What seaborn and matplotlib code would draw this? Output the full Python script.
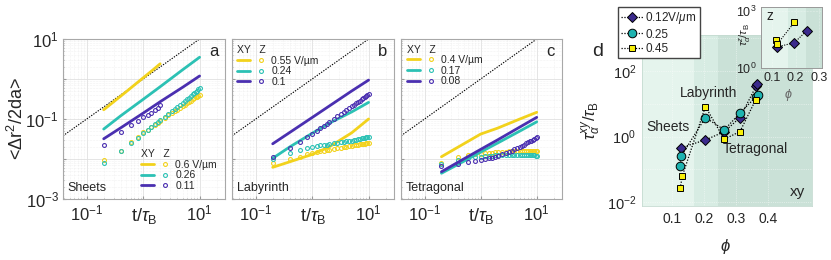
"""
MSD panels (Sheets / Labyrinth / Tetragonal) and relaxation time vs packing fraction.
"""
import numpy as np
import matplotlib
matplotlib.use("Agg")
import matplotlib.pyplot as plt
import seaborn as sns
from matplotlib.lines import Line2D
from matplotlib.legend_handler import HandlerTuple
from matplotlib.ticker import NullFormatter, LogLocator

# ---------------- data ----------------
T_Z = [0.2, 0.4, 0.6, 0.8, 1.0, 1.2, 1.4, 1.6, 1.8, 2.0, 2.4, 2.8, 3.2, 3.6,
       4.0, 4.5, 5.0, 5.5, 6.0, 6.5, 7.0, 7.5, 8.0, 8.5, 9.0, 9.5, 10.0]
T_XY = [0.2, 0.4, 1.0, 2.0, 5.0, 10.0]
T_XY_SHORT = [0.2, 0.5, 1.0, 1.5, 2.0]
GUIDE_T = [0.01, 100.0]
GUIDE_Y = [0.01, 100.0]

# panel a: Sheets
A_FIELDS = ['0.6 V/µm', '0.26', '0.11']
A_XY_YELLOW = [0.17, 0.48, 1.07, 1.7, 2.4]          # on T_XY_SHORT
A_XY_TEAL = [0.056, 0.12, 0.31, 0.64, 1.7, 3.5]
A_XY_PURPLE = [0.032, 0.06, 0.14, 0.27, 0.62, 1.19]
A_Z_YELLOW = [.0094, .016, .026, .036, .046, .053, .062, .072, .081, .09, .108, .125, .142, .158,
              .172, .19, .21, .23, .25, .27, .29, .31, .33, .35, .365, .38, .40]
A_Z_TEAL = [.0078, .016, .025, .034, .044, .053, .063, .073, .083, .093, .113, .133, .155, .175,
            .195, .22, .25, .28, .31, .34, .37, .41, .44, .48, .51, .55, .59]
A_Z_PURPLE = [.023, .047, .071, .091, .11, .126, .145, .165, .19, .23]   # t = 0.2 .. 2.0

# panel b: Labyrinth
B_FIELDS = ['0.55 V/µm', '0.24', '0.1']
B_XY_YELLOW = [.0062, .0085, .013, .02, .045, .10]
B_XY_TEAL = [.0104, .02, .044, .078, .15, .26]
B_XY_PURPLE = [.024, .046, .109, .21, .5, .94]
B_Z_YELLOW = [.0078, .0098, .0115, .013, .0142, .015, .0157, .0163, .0168, .0172, .018, .0186, .0192,
              .0197, .0202, .0208, .0213, .0218, .0222, .0227, .0231, .0235, .0239, .0243, .0246, .025, .0253]
B_Z_TEAL = [.0100, .0140, .0165, .0185, .020, .021, .022, .0225, .023, .0235, .0245, .0255, .026,
            .027, .0275, .028, .029, .0295, .030, .031, .032, .033, .0335, .034, .035, .0355, .036]
B_Z_PURPLE = [.011, .019, .027, .035, .043, .051, .059, .067, .076, .085, .10, .118, .135, .152,
              .17, .19, .21, .23, .25, .27, .29, .31, .33, .35, .37, .40, .42]

# panel c: Tetragonal
C_FIELDS = ['0.4 V/µm', '0.17', '0.08']
C_XY_YELLOW = [.0114, .02, .042, .059, .10, .147]
C_XY_TEAL = [.0044, .0074, .0149, .025, .05, .085]
C_XY_PURPLE = [.0048, .0084, .0174, .03, .063, .11]
C_Z_YELLOW = [.008, .011, .0125, .0132, .0137, .014, .0143, .0145, .0147, .0149, .0151, .0153, .0154,
              .0155, .0156, .0157, .0158, .0158, .0159, .0159, .016, .016, .016, .016, .016, .016, .016]
C_Z_TEAL = [.0075, .0095, .0105, .011, .0114, .0117, .012, .0122, .0124, .0125, .0127, .0128, .0128,
            .0128, .0128, .0127, .0127, .0126, .0126, .0125, .0125, .0124, .0124, .0123, .0123, .0122, .0122]
C_Z_PURPLE = [.0065, .0075, .0082, .0088, .0094, .0099, .0104, .0109, .0114, .0119, .013, .0141, .0152,
              .0163, .0174, .0188, .0202, .0216, .023, .0245, .026, .0275, .029, .0305, .032, .034, .036]

# panel d: tau_alpha vs phi
D_LABELS = ['0.12V/$\\mu$m', '0.25', '0.45']
D_PHI_PURPLE = [0.130, 0.205, 0.264, 0.313, 0.363, 0.367]
D_TAU_PURPLE = [0.46, 0.79, 1.4, 3.8, 34, 40]
D_PHI_TEAL = [0.126, 0.130, 0.205, 0.264, 0.313, 0.362, 0.368]
D_TAU_TEAL = [0.13, 0.26, 3.8, 1.6, 5.2, 16, 18]
D_PHI_YELLOW = [0.126, 0.133, 0.205, 0.264, 0.313, 0.362]
D_TAU_YELLOW = [0.026, 0.063, 8.2, 0.83, 1.42, 13.2]
# inset (z direction)
IN_PHI_PURPLE = [0.121, 0.195, 0.248]
IN_TAU_PURPLE = [13, 22, 96]
IN_PHI_YELLOW = [0.117, 0.124, 0.195]
IN_TAU_YELLOW = [30, 19, 257]
PHASE_EDGES = [0.17, 0.245]

# ---------------- style ----------------
YELLOW = '#f2d21c'
TEAL = '#2cc1b4'
PURPLE = '#4a2fb0'
D_PURPLE = '#3b2a8c'
D_TEAL = '#1fb3b0'
D_YELLOW = '#f8ef0a'
SHADES = ['#e5f4ed', '#d7ece3', '#cae1d7']

sns.set_style("ticks")
plt.rcParams['font.family'] = ['Liberation Sans', 'DejaVu Sans']
plt.rcParams['mathtext.fontset'] = 'custom'
plt.rcParams['mathtext.rm'] = 'Liberation Sans'
plt.rcParams['mathtext.it'] = 'Liberation Sans:italic'
plt.rcParams['mathtext.bf'] = 'Liberation Sans:bold'

W, H = 831, 260
fig = plt.figure(figsize=(W / 100, H / 100), dpi=100)


def box(x0, y0, x1, y1):
    return [x0 / W, 1 - y1 / H, (x1 - x0) / W, (y1 - y0) / H]


def msd_panel(rect, xy, z, fields, letter, name, show_y, leg_anchor):
    ax = fig.add_axes(rect)
    ax.set_xscale('log')
    ax.set_yscale('log')
    sns.lineplot(x=GUIDE_T, y=GUIDE_Y, ax=ax, color='black', lw=0.8, ls=(0, (1.2, 1.2)))
    handles = []
    for (tx, yx), (tz, yz), c in zip(xy, z, [YELLOW, TEAL, PURPLE]):
        sns.lineplot(x=tx, y=yx, ax=ax, color=c, lw=2.0)
        sns.lineplot(x=tz, y=yz, ax=ax, color=c, ls='none', marker='o', mfc='none',
                     mec=c, ms=2.8, mew=0.8)
        handles.append((Line2D([], [], color=c, lw=2.0),
                        Line2D([], [], ls='none', marker='o', mfc='none', mec=c, ms=2.8, mew=0.8)))
    ax.set_xlim(10 ** -1.42, 10 ** 1.45)
    ax.set_ylim(1e-3, 10)
    ax.set_xticks([0.1, 1, 10])
    ax.set_xticklabels([r'$\mathregular{10^{-1}}$', '', r'$\mathregular{10^{1}}$'])
    ax.set_yticks([1e-3, 1e-2, 1e-1, 1, 10])
    if show_y:
        ax.set_yticklabels([r'$\mathregular{10^{-3}}$', '', r'$\mathregular{10^{-1}}$', '',
                            r'$\mathregular{10^{1}}$'])
        ax.set_ylabel('<Δr$^2$/2da>', fontsize=13)
        ax.yaxis.set_label_coords(-0.225, 0.5)
    else:
        ax.set_yticklabels([])
    for axis in (ax.xaxis, ax.yaxis):
        axis.set_minor_locator(LogLocator(subs=np.arange(2, 10)))
        axis.set_minor_formatter(NullFormatter())
    ax.grid(True, which='major', color='#e0e0e0', lw=0.6)
    ax.grid(True, which='minor', color='#e6e6e6', lw=0.4, ls=':')
    ax.tick_params(which='both', direction='in', length=2, color='#999999',
                   labelsize=12, pad=3)
    ax.tick_params(which='minor', length=1)
    for s in ax.spines.values():
        s.set_color('#a8a8a8')
        s.set_linewidth(0.8)
    ax.set_xlabel(r't/$\tau_\mathregular{B}$', fontsize=13)
    ax.xaxis.set_label_coords(0.5, -0.045)
    ax.text(0.93, 0.92, letter, transform=ax.transAxes, fontsize=12, ha='center', va='center')
    ax.text(0.03, 0.07, name, transform=ax.transAxes, fontsize=9, ha='left', va='center')
    ax.legend(handles, fields, handler_map={tuple: HandlerTuple(ndivide=2, pad=0.4)},
              loc='upper left', bbox_to_anchor=leg_anchor, frameon=False,
              fontsize=7.5, title='XY   Z', title_fontsize=7.5, alignment='left',
              handlelength=3.0, handletextpad=0.3, labelspacing=0.05, borderpad=0,
              borderaxespad=0)
    return ax


msd_panel(box(63, 39, 225, 199),
          [(T_XY_SHORT, A_XY_YELLOW), (T_XY, A_XY_TEAL), (T_XY, A_XY_PURPLE)],
          [(T_Z, A_Z_YELLOW), (T_Z, A_Z_TEAL), (T_Z[:len(A_Z_PURPLE)], A_Z_PURPLE)],
          A_FIELDS, 'a', 'Sheets', True, (0.48, 0.31))
msd_panel(box(232, 39, 394, 199),
          [(T_XY, B_XY_YELLOW), (T_XY, B_XY_TEAL), (T_XY, B_XY_PURPLE)],
          [(T_Z, B_Z_YELLOW), (T_Z, B_Z_TEAL), (T_Z, B_Z_PURPLE)],
          B_FIELDS, 'b', 'Labyrinth', False, (0.03, 0.96))
msd_panel(box(401, 39, 562, 199),
          [(T_XY, C_XY_YELLOW), (T_XY, C_XY_TEAL), (T_XY, C_XY_PURPLE)],
          [(T_Z, C_Z_YELLOW), (T_Z, C_Z_TEAL), (T_Z, C_Z_PURPLE)],
          C_FIELDS, 'c', 'Tetragonal', False, (0.035, 0.965))

# ---------------- panel d ----------------
axd = fig.add_axes(box(641.7, 35, 812, 206))
axd.set_yscale('log')
xl = (0.006, 0.538)
edges = [xl[0]] + PHASE_EDGES + [xl[1]]
for i, c in enumerate(SHADES):
    axd.axvspan(edges[i], edges[i + 1], color=c, lw=0, zorder=0)

series = [(D_PHI_PURPLE, D_TAU_PURPLE, 'D', D_PURPLE, 5),
          (D_PHI_TEAL, D_TAU_TEAL, 'o', D_TEAL, 6.2),
          (D_PHI_YELLOW, D_TAU_YELLOW, 's', D_YELLOW, 4.6)]
for phi, tau, m, c, ms in series:
    sns.lineplot(x=phi, y=tau, ax=axd, estimator=None, sort=False, color='black', lw=0.9,
                 ls=(0, (1, 1.3)), marker=m, mfc=c, mec='black', mew=0.7, ms=ms, zorder=3)
axd.set_xlim(*xl)
axd.set_ylim(10 ** -2.12, 10 ** 3.1)
axd.set_xticks([0.1, 0.2, 0.3, 0.4])
axd.set_xticklabels(['0.1', '0.2', '0.3', '0.4'])
axd.set_yticks([1e-2, 1e-1, 1, 10, 100, 1000])
axd.set_yticklabels([r'$\mathregular{10^{-2}}$', '', r'$\mathregular{10^{0}}$', '',
                     r'$\mathregular{10^{2}}$', ''])
axd.yaxis.set_minor_locator(LogLocator(subs=np.arange(2, 10)))
axd.yaxis.set_minor_formatter(NullFormatter())
axd.grid(True, which='both', axis='y', color='white', lw=0.5, ls=':', alpha=0.8)
axd.grid(True, which='major', axis='x', color='white', lw=0.5, ls=':', alpha=0.8)
axd.tick_params(which='both', length=0, labelsize=10.5, pad=4)
axd.tick_params(axis='x', labelsize=10)
for s in axd.spines.values():
    s.set_color('#c5dbd1')
    s.set_linewidth(0.6)
axd.set_ylabel(r'$\tau_\alpha^{xy}/\tau_\mathregular{B}$', fontsize=12)
axd.yaxis.set_label_coords(-0.225, 0.5)
axd.set_xlabel(r'$\phi$', fontsize=12)
axd.xaxis.set_label_coords(0.49, -0.18)
axd.text(0.088, 2.0, 'Sheets', fontsize=10, ha='center', va='center', zorder=4)
axd.text(0.215, 21, 'Labyrinth', fontsize=10, ha='center', va='center', zorder=4)
axd.text(0.36, 0.41, 'Tetragonal', fontsize=10, ha='center', va='center', zorder=4)
axd.text(0.96, 0.04, 'xy', transform=axd.transAxes, fontsize=11, ha='right', va='bottom')
fig.text(598 / W, 1 - 52 / H, 'd', fontsize=14, ha='center', va='center')

d_handles = [Line2D([], [], color='black', lw=0.9, ls=(0, (1, 1.3)), marker=m, mfc=c,
                    mec='black', mew=0.7, ms=ms) for _, _, m, c, ms in series]
fig.legend(d_handles, D_LABELS, loc='upper left', bbox_to_anchor=(617.7 / W, 1 - 7.3 / H),
           frameon=True, fancybox=False, edgecolor='#444444', framealpha=1, fontsize=8.5,
           handlelength=2.0, handletextpad=0.1, labelspacing=0.2, borderpad=0.25,
           borderaxespad=0)

# inset (z)
axi = fig.add_axes(box(761, 7.3, 821.7, 68.3))
axi.set_zorder(5)
axi.set_yscale('log')
ixl = (0.055, 0.31)
iedges = [ixl[0]] + PHASE_EDGES + [ixl[1]]
for i, c in enumerate(SHADES):
    axi.axvspan(iedges[i], iedges[i + 1], color=c, lw=0, zorder=0)
for phi, tau, m, c, ms in [(IN_PHI_PURPLE, IN_TAU_PURPLE, 'D', D_PURPLE, 4.6),
                           (IN_PHI_YELLOW, IN_TAU_YELLOW, 's', D_YELLOW, 4.6)]:
    sns.lineplot(x=phi, y=tau, ax=axi, estimator=None, sort=False, color='black', lw=0.8,
                 ls=(0, (1, 1.3)), marker=m, mfc=c, mec='black', mew=0.7, ms=ms, zorder=3)
axi.set_xlim(*ixl)
axi.set_ylim(1, 10 ** 3.2)
axi.set_xticks([0.1, 0.2, 0.3])
axi.set_xticklabels(['0.1', '0.2', '0.3'])
axi.set_yticks([1, 1000])
axi.set_yticklabels([r'$\mathregular{10^{0}}$', r'$\mathregular{10^{3}}$'])
axi.yaxis.set_minor_locator(LogLocator(subs=np.arange(2, 10)))
axi.yaxis.set_minor_formatter(NullFormatter())
axi.grid(True, which='both', color='white', lw=0.4, ls=':', alpha=0.8)
axi.tick_params(which='both', length=0, labelsize=9, pad=3)
for s in axi.spines.values():
    s.set_color('#999999')
    s.set_linewidth(0.7)
axi.set_ylabel(r'$\tau_\alpha^{z}/\tau_\mathregular{B}$', fontsize=8)
axi.yaxis.set_label_coords(-0.14, 0.56)
axi.set_xlabel(r'$\phi$', fontsize=9, color='#666666')
axi.xaxis.set_label_coords(0.45, -0.3)
axi.text(0.09, 0.86, 'z', transform=axi.transAxes, fontsize=10, ha='left', va='center')

fig.savefig('out.png', dpi=100)
